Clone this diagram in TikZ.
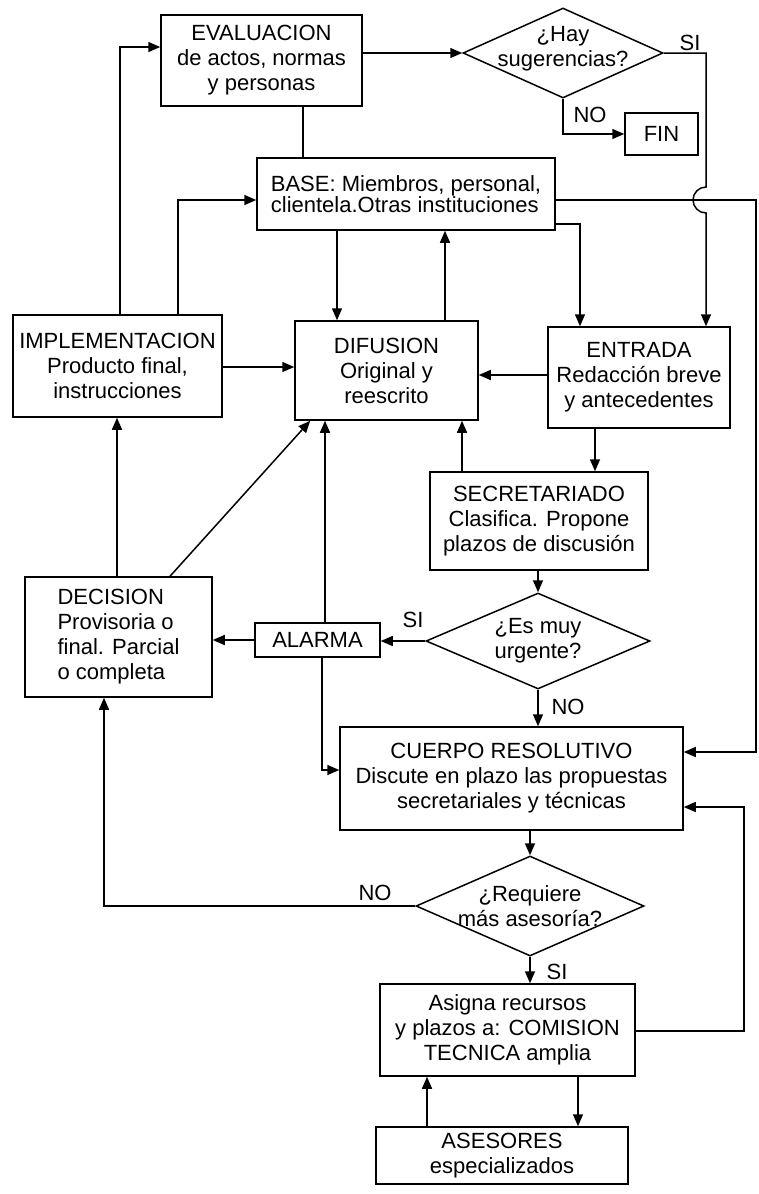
\documentclass[tikz,border=0pt]{standalone}
\usepackage{fontspec}
\setmainfont{Liberation Sans}
\usetikzlibrary{shapes,arrows.meta}
\tikzstyle{block} = [rectangle, draw, line width=1.5pt, align=center,
    inner sep=2pt, font=\fontsize{22pt}{25pt}\selectfont]
\tikzstyle{decision} = [diamond, draw, line width=1.5pt, inner sep=0pt]
\tikzstyle{tag} = [inner sep=0pt, font=\fontsize{22pt}{25pt}\selectfont]
\tikzstyle{link} = [draw, line width=1.5pt]
\tikzstyle{line} = [draw, line width=1.5pt, -{Triangle[length=12pt,width=10pt]}]

\begin{document}
\begin{tikzpicture}[x=1pt, y=-1pt]
  \useasboundingbox (0,0) rectangle (759,1194);
   % Place nodes
    \node [block, minimum width=201pt, minimum height=91pt] (eval) at (261.5,60.5) {EVALUACION\\de actos, normas\\y personas};
    \node [decision, minimum width=200pt, minimum height=90pt,
      label={[tag, align=center, yshift=4pt]center:¿Hay\\sugerencias?}] (hay) at (563,53) {};
    \node [block, minimum width=73pt, minimum height=42pt] (fin) at (661.5,134) {FIN};
    \node [block, minimum width=298pt, minimum height=72pt, align=left,
      font=\fontsize{22pt}{21pt}\selectfont] (base) at (406,194) {BASE: Miembros, personal,\\clientela.Otras instituciones};
    \node [block, minimum width=209pt, minimum height=102pt] (impl) at (117.5,366) {IMPLEMENTACION\\Producto final,\\instrucciones};
    \node [block, minimum width=183pt, minimum height=99pt] (dif) at (386.5,370.5) {DIFUSION\\Original y\\reescrito};
    \node [block, minimum width=182pt, minimum height=101pt] (ent) at (639,377.5) {ENTRADA\\Redacción breve\\y antecedentes};
    \node [block, minimum width=218pt, minimum height=98pt] (sec) at (539,521) {SECRETARIADO\\Clasifica. Propone\\plazos de discusión};
    \node [decision, minimum width=224pt, minimum height=96pt,
      label={[tag, align=center]center:¿Es muy\\urgente?}] (urg) at (538,641) {};
    \node [block, minimum width=125pt, minimum height=34pt] (alarma) at (317.5,640) {ALARMA};
    \node [block, minimum width=187pt, minimum height=120pt, align=left] (dec) at (118.5,637) {DECISION\\Provisoria o\\final. Parcial\\o completa};
    \node [block, minimum width=343pt, minimum height=103pt] (cuerpo) at (511.5,778.5) {CUERPO RESOLUTIVO\\Discute en plazo las propuestas\\secretariales y técnicas};
    \node [decision, minimum width=228pt, minimum height=100pt,
      label={[tag, align=center]center:¿Requiere\\más asesoría?}] (req) at (530,906) {};
    \node [block, minimum width=255pt, minimum height=92pt] (asigna) at (507.5,1030) {Asigna recursos\\y plazos a: COMISION\\TECNICA amplia};
    \node [block, minimum width=252pt, minimum height=57pt] (ases) at (502,1155.5) {ASESORES\\especializados};
   % Place answers
    \node [tag] (si1) at (690,43) {SI};
    \node [tag] (no1) at (590,115) {NO};
    \node [tag] (si2) at (413,620) {SI};
    \node [tag] (no2) at (568,707) {NO};
    \node [tag] (no3) at (375,893) {NO};
    \node [tag] (si3) at (557,972) {SI};
   % Draw edges
    \path [line] (eval.east |- hay.west) -- (hay.west);
    \path [line] (hay.east) -| (706,187) arc [start angle=90, end angle=270, radius=13pt] -- (ent.north -| 706,0);
    \path [line] (hay.south) |- (fin.west);
    \path [link] (eval.south -| 303,0) -- (base.north -| 303,0);
    \path [line] (impl.north -| 120,0) |- (eval.west |- 0,47);
    \path [line] (impl.north -| 178,0) |- (base.west |- 0,200);
    \path [line] (base.south -| 337,0) -- (dif.north -| 337,0);
    \path [line] (dif.north -| 445,0) -- (base.south -| 445,0);
    \path [line] (base.east |- 0,224) -| (ent.north -| 580,0);
    \path [line] (base.east |- 0,200) -- (756,200) |- (cuerpo.east |- 0,752);
    \path [line] (impl.east |- 0,367) -- (dif.west |- 0,367);
    \path [line] (ent.west |- 0,375) -- (dif.east |- 0,375);
    \path [line] (ent.south -| 595,0) -- (sec.north -| 595,0);
    \path [line] (sec.north -| 462,0) -- (dif.south -| 462,0);
    \path [line] (sec.south -| urg.north) -- (urg.north);
    \path [line] (urg.west) -- (alarma.east |- urg.west);
    \path [line] (alarma.west) -- (dec.east |- alarma.west);
    \path [line] (alarma.north -| 325,0) -- (dif.south -| 325,0);
    \path [line] (alarma.south -| 322,0) |- (cuerpo.west |- 0,770);
    \path [line] (dec.north -| 117,0) -- (impl.south -| 117,0);
    \path [line] (dec.north -| 170,0) -- ([xshift=16pt]dif.south west);
    \path [line] (urg.south) -- (cuerpo.north -| urg.south);
    \path [line] (cuerpo.south -| req.north) -- (req.north);
    \path [line] (req.west) -| (dec.south -| 104,0);
    \path [line] (req.south) -- (asigna.north -| req.south);
    \path [line] (asigna.east |- 0,1031) -| (744,807) -- (cuerpo.east |- 0,807);
    \path [line] (ases.north -| 427,0) -- (asigna.south -| 427,0);
    \path [line] (asigna.south -| 578,0) -- (ases.north -| 578,0);
\end{tikzpicture}
\end{document}
